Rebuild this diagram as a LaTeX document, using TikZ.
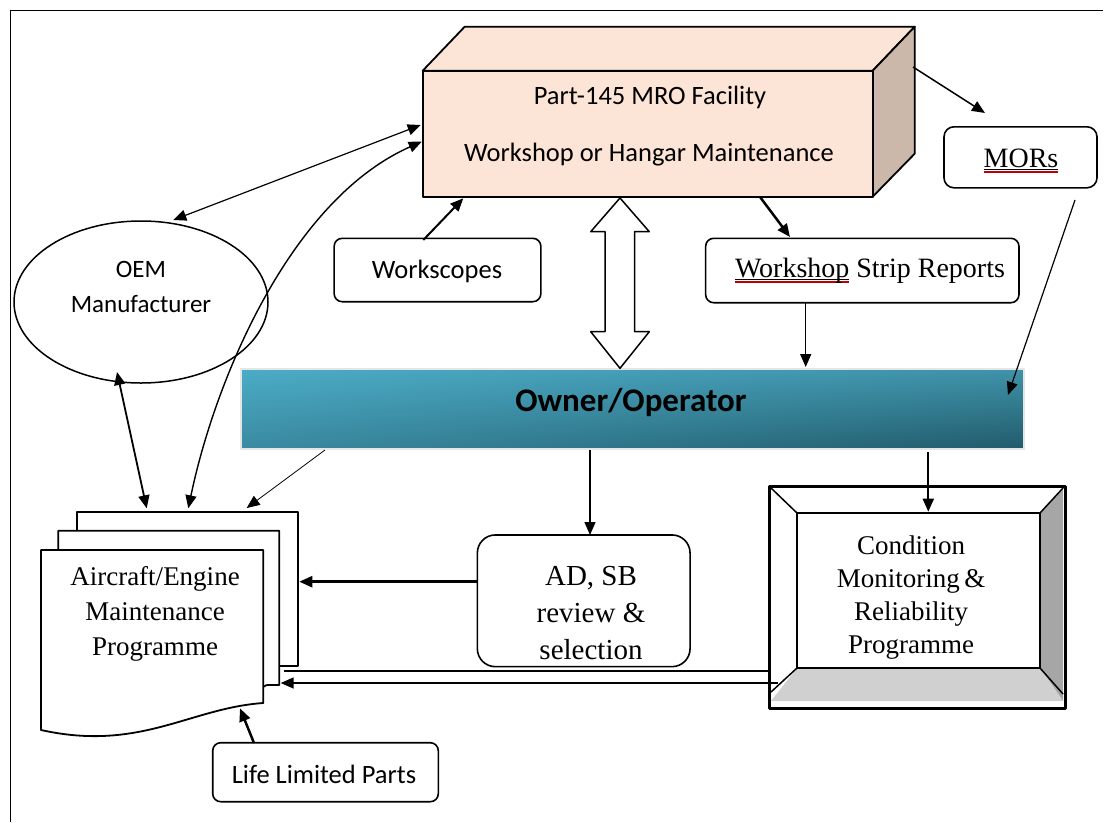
\documentclass[tikz,border=0pt]{standalone}
\usepackage{fontspec}
\setmainfont{Liberation Serif}
\newfontfamily\calibri{Carlito}
\usetikzlibrary{arrows.meta,shapes.geometric,calc,shadings}
\definecolor{peach}{HTML}{FCE4D6}
\definecolor{tanside}{HTML}{CBB8AB}
\definecolor{barUL}{HTML}{4BACC6}
\definecolor{barUR}{HTML}{3F92A9}
\definecolor{barLL}{HTML}{3A8AA1}
\definecolor{barLR}{HTML}{215B6B}
\definecolor{bevdark}{HTML}{A6A6A6}
\definecolor{bevlight}{HTML}{D0D0D0}
\definecolor{spellred}{HTML}{C00000}
\newcommand\spellul[1]{\setbox0\hbox{#1}\rlap{\color{spellred}\rule[-5.5pt]{\wd0}{1.2pt}}\rlap{\rule[-3pt]{\wd0}{0.7pt}}\box0\relax}
\begin{document}
\begin{tikzpicture}[x=1pt,y=-1pt,line join=round,
  every node/.style={inner sep=0pt,outer sep=0pt},
  >={Triangle[length=13pt,width=11pt]},
  roundbox/.style={draw,line width=1.6pt,fill=white,rounded corners=#1},
  sans/.style={font=\calibri\fontsize{26.5}{30}\selectfont},
  serif/.style={font=\fontsize{#1}{#1}\selectfont},
  conn/.style={line width=#1}
]
\useasboundingbox (0,0) rectangle (1105,822);
% frame
\draw[line width=0.8pt] (10,822) -- (10,10) -- (1103,10);

% ---- MRO cube ----
\draw[line width=1.8pt,fill=peach] (422.7,70.7) -- (464.7,26.7) -- (914.7,26.7) -- (872.7,70.7) -- cycle;
\draw[line width=1.8pt,fill=tanside] (872.7,70.7) -- (914.7,26.7) -- (914.7,153.7) -- (872.7,196.7) -- cycle;
\node[draw,line width=1.8pt,fill=peach,minimum width=450pt,minimum height=126pt] (mro) at (647.7,133.7) {};
\node[sans] (mrot1) at (650,97) {Part-145 MRO Facility};
\node[sans] (mrot2) at (649,155) {Workshop or Hangar Maintenance};

% ---- MORs ----
\node[roundbox=10pt,minimum width=153pt,minimum height=61pt] (mors) at (1020.5,157.3) {};
\node[serif=28,anchor=base] (morst) at (1021,167) {\spellul{MORs}};

% ---- OEM ----
\node[ellipse,draw,line width=1.5pt,fill=white,minimum width=254pt,minimum height=162pt] (oem) at (141,302) {};
\node[font=\calibri\fontsize{25}{35}\selectfont,align=center] (oemt) at (141,287) {OEM\\Manufacturer};

% ---- Workscopes ----
\node[roundbox=8pt,minimum width=206.7pt,minimum height=63.4pt] (ws) at (437.5,270) {};
\node[sans] (wst) at (437,271) {Workscopes};

% ---- Workshop strip reports ----
\node[roundbox=8pt,minimum width=313.3pt,minimum height=64.4pt] (wsr) at (862.3,270.5) {};
\node[serif=28,anchor=base west] (wsrt) at (735,277) {\spellul{Workshop} Strip Reports};

% ---- Owner/Operator bar ----
\shade[upper left=barUL,upper right=barUR,lower left=barLL,lower right=barLR] (241,369) rectangle (1024,449);
\draw[gray!20,line width=1.2pt] (241,369) rectangle (1024,449);
\node[minimum width=783pt,minimum height=80pt] (owner) at (632.5,409) {};
\node[font=\calibri\bfseries\fontsize{33}{36}\selectfont] (ownert) at (631,403) {Owner/Operator};

% ---- hollow double arrow ----
\draw[line width=1.5pt,fill=white] (620,198) -- (649.3,231.7) -- (634.5,231.7) -- (634.5,331.7) -- (649.3,331.7) -- (620,368.3) -- (590.7,331.7) -- (605,331.7) -- (605,231.7) -- (590.7,231.7) -- cycle;

% ---- AD SB ----
\node[roundbox=18pt,minimum width=212.7pt,minimum height=131.7pt] (adsb) at (583.7,600.8) {};
\node[font=\fontsize{29}{37}\selectfont,align=center] (adsbt) at (591,613) {AD, SB\\review \&\\selection};

% ---- Condition monitoring (bevel) ----
\fill[bevdark] (1040,513) -- (1063,488) -- (1063,701) -- (1040,668) -- cycle;
\fill[bevlight] (797,668) -- (1040,668) -- (1063,701) -- (771,701) -- cycle;
\draw[line width=1.5pt] (771,488) -- (797,513) (1063,488) -- (1040,513) (771,692) -- (797,668) (1063,694) -- (1040,668);
\node[draw,line width=1.5pt,minimum width=243pt,minimum height=155pt] (cmin) at (918.5,590.5) {};
\node[draw,line width=3pt,minimum width=295.7pt,minimum height=221.6pt] (cm) at (917.2,597.5) {};
\node[font=\fontsize{27}{33}\selectfont,align=center] (cmt) at (911,598) {Condition\\Monitoring\,\&\\Reliability\\Programme};

% ---- AEMP document stack ----
\draw[line width=1.8pt,fill=white] (77.3,511.7) rectangle (298.3,666);
\draw[line width=1.8pt,fill=white] (58.3,530.7) -- (279.3,530.7) -- (279.3,685) -- (270,685) .. controls (266,685) .. (263,687) -- (58.3,687) -- cycle;
\draw[line width=1.8pt,fill=white] (41,550) -- (263.3,550) -- (263.3,703) .. controls (190,708) and (140,752) .. (41,730) -- cycle;
\node[font=\fontsize{27}{35}\selectfont,align=center] (aemp) at (155,614) {Aircraft/Engine\\Maintenance\\Programme};

% ---- Life Limited Parts ----
\node[roundbox=8pt,minimum width=225.6pt,minimum height=59pt] (llp) at (325.5,772.2) {};
\node[sans] (llpt) at (324,774) {Life Limited Parts};

% ---- connector end points ----
\coordinate (oemNE) at (173.3,220);
\coordinate (mroW1) at (420.7,125);
\coordinate (mroW2) at (421.7,141.7);
\coordinate (aempT1) at (146.7,508.3);
\coordinate (aempT2) at (188.3,508.3);
\coordinate (aempT3) at (246.7,508);
\coordinate (oemS) at (117,372);
\coordinate (ownerSW) at (325,450);
\coordinate (wsN) at (423.3,240);
\coordinate (mroS1) at (463.3,198.3);
\coordinate (mroS2) at (760,197);
\coordinate (wsrN) at (790,237);
\coordinate (wsrS) at (805.7,302);
\coordinate (ownerN1) at (805.7,367);
\coordinate (mroE) at (913,67);
\coordinate (morsNW) at (985,113);
\coordinate (morsS) at (1075,200);
\coordinate (ownerN2) at (1008,395);
\coordinate (ownerS1) at (590,450);
\coordinate (adsbN) at (590,535);
\coordinate (ownerS2) at (928.3,452);
\coordinate (cmN) at (928.3,511.7);
\coordinate (adsbW) at (477,581.7);
\coordinate (aempE1) at (299.3,581.7);
\coordinate (cmW1) at (769,671);
\coordinate (aempE2) at (284,671);
\coordinate (cmW2) at (778,683);
\coordinate (aempE3) at (280.7,683);
\coordinate (llpN) at (254,743);
\coordinate (aempB) at (240,708.3);

% ---- connectors ----
\draw[conn=1.2pt,<->] (oemNE) -- (mroW1);
\draw[conn=1.4pt,<->] (aempT2) .. controls (215,380) and (290,200) .. (mroW2);
\draw[conn=1.8pt,<->] (oemS) -- (aempT1);
\draw[conn=0.8pt,->] (ownerSW) -- (aempT3);
\draw[conn=2pt,->] (wsN) -- (mroS1);
\draw[conn=2.5pt,->] (mroS2) -- (wsrN);
\draw[conn=1.5pt,->] (wsrS) -- (ownerN1);
\draw[conn=1.5pt,->] (mroE) -- (morsNW);
\draw[conn=1.2pt,->] (morsS) -- (ownerN2);
\draw[conn=1.5pt,->] (ownerS1) -- (adsbN);
\draw[conn=2pt,->] (ownerS2) -- (cmN);
\draw[conn=2.5pt,->] (adsbW) -- (aempE1);
\draw[conn=2.5pt] (cmW1) -- (aempE2);
\draw[conn=1.5pt,->] (cmW2) -- (aempE3);
\draw[conn=2.5pt,->] (llpN) -- (aempB);
\end{tikzpicture}
\end{document}
